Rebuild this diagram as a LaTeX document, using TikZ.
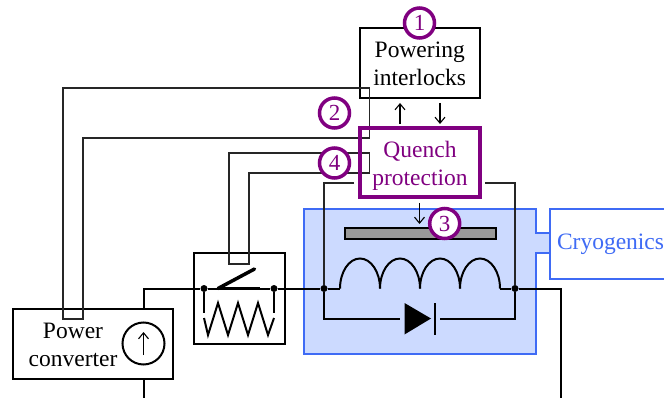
\documentclass[tikz,border=0pt]{standalone}
\usepackage{fontspec}
\setmainfont{Liberation Serif}
\usetikzlibrary{arrows.meta}
\definecolor{qp}{HTML}{800080}
\definecolor{cry}{HTML}{3F6BF5}
\definecolor{cryfill}{HTML}{CCDAFF}
\tikzset{
  x=1pt,y=-1pt,
  wire/.style={line width=2pt,black},
  thinw/.style={line width=1.1pt,black!85},
  lab/.style={inner sep=0pt,align=center,font=\fontsize{23.5}{27.5}\selectfont},
  box/.style={draw=black,line width=2pt,fill=white,minimum width=#1,inner sep=0pt},
  sig/.style={line width=1.1pt,-{Straight Barb[length=6pt,width=10pt]}},
  num/.style={circle,draw=qp,line width=3.5pt,fill=white,text=qp,minimum size=30pt,inner sep=0pt,font=\fontsize{23}{24}\selectfont},
  dotn/.style={circle,fill=black,minimum size=7pt,inner sep=0pt},
}
\begin{document}
\begin{tikzpicture}
\useasboundingbox (0,0) rectangle (664,398);
% cryostat
\fill[cryfill] (304,209) rectangle (536,354);
\fill[cryfill] (536,233) rectangle (550,253);
\draw[cry,line width=2pt] (550,233) -- (536,233) -- (536,209) -- (304,209) -- (304,354) -- (536,354) -- (536,253) -- (550,253);
\node[box=130pt,draw=cry,text=cry,minimum height=70pt,lab,text width=116pt,align=left] (cryo) at (615,244) {Cryogenics};
% boxes
\node[box=120.5pt,minimum height=70pt] (pi) at (419.75,63) {};
\node[lab] (pit) at (419.75,64) {Powering\\interlocks};
\node[box=160pt,minimum height=70pt] (pc) at (93.25,344) {};
\node[lab] (pct) at (73,345) {Power\\converter};
\node[box=91pt,minimum height=90.5pt] (sw) at (239,298.75) {};
% interlock loops
\draw[thinw] (63,319) -- (63,88) -- (369.5,88) -- (369.5,138) -- (83,138) -- (83,319) -- cycle;
\draw[thinw] (229,264) -- (229,153) -- (369.5,153) -- (369.5,173) -- (249,173) -- (249,264) -- cycle;
% quench
\node[draw=qp,line width=4pt,minimum width=120pt,minimum height=69pt] (qb) at (420,163) {};
\node[lab,text=qp] (qt) at (420,166) {Quench\\protection};
\coordinate (l1) at (354,183);
\coordinate (r1) at (485,183);
% dots
\node[dotn] (da) at (204,288.5) {};
\node[dotn] (db) at (274,288.5) {};
\node[dotn] (dc) at (324,288.5) {};
\node[dotn] (dd) at (515,288.5) {};
% main wire
\coordinate (pctop) at (143.5,309);
\coordinate (pcbot) at (143.5,379);
\coordinate (end) at (561,398);
\coordinate (end2) at (143.5,398);
\draw[wire] (pctop) -- (143.5,288.5) -- (da) -- (db) -- (dc) -- (340,288.5);
\draw[wire] (pcbot) -- (end2);
\draw[wire] (500,288.5) -- (dd) -- (561,288.5) -- (end);
% coil
\draw[wire] (340,288.5) arc[start angle=180,end angle=0,x radius=20,y radius=-30];
\draw[wire] (380,288.5) arc[start angle=180,end angle=0,x radius=20,y radius=-30];
\draw[wire] (420,288.5) arc[start angle=180,end angle=0,x radius=20,y radius=-30];
\draw[wire] (460,288.5) arc[start angle=180,end angle=0,x radius=20,y radius=-30];
% bar
\draw[line width=2pt,fill=black!40] (344.5,228.5) rectangle (495.5,239);
% diode
\coordinate (dl) at (400,318.5);
\coordinate (dr) at (440,318.5);
\draw[wire] (dc) -- (324,318.5) -- (dl);
\draw[wire] (dd) -- (515,318.5) -- (dr);
\fill[black] (404.5,303) -- (431,318.5) -- (404.5,334.5) -- cycle;
\draw[wire] (435,303) -- (435,334.5);
% leads
\draw[thinw] (l1) -- (324,183) -- (dc);
\draw[thinw] (r1) -- (515,183) -- (dd);
% arrows
\coordinate (u1) at (400,124); \coordinate (u2) at (400,103);
\coordinate (d1) at (440,103); \coordinate (d2) at (440,124);
\coordinate (h1) at (419.5,203); \coordinate (h2) at (419.5,224);
\draw[sig] (u1) -- (u2);
\draw[sig] (d1) -- (d2);
\draw[sig] (h1) -- (h2);
% switch
\draw[line width=3.5pt] (218,288.5) -- (260,288.5);
\draw[line width=3.5pt,line cap=round] (218,288.5) -- (254.5,269);
\draw[wire] (da) -- (204,313);
\draw[wire] (db) -- (274,313);
\draw[wire,line join=miter] (204,318) -- (208,335) -- (218,303) -- (228,335) -- (238,303) -- (248,335) -- (258,303) -- (268,335) -- (274,318);
% source
\node[circle,draw=black,line width=2pt,minimum size=42pt,inner sep=0pt] (src) at (143.5,343.5) {};
\draw[sig] (143.5,355) -- (143.5,332);
% numbers
\node[num] (n1) at (419.5,23) {1};
\node[num] (n2) at (334.5,113) {2};
\node[num] (n4) at (334.5,163) {4};
\node[num] (n3) at (444.7,223.5) {3};
\end{tikzpicture}
\end{document}
